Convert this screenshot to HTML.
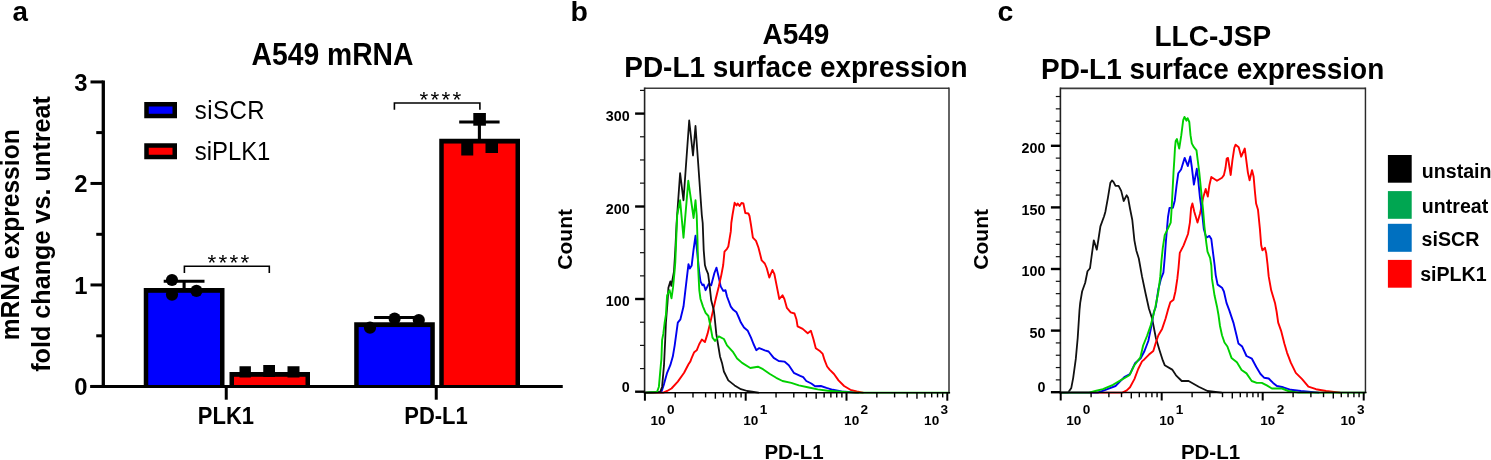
<!DOCTYPE html>
<html><head><meta charset="utf-8"><title>figure</title>
<style>
html,body{margin:0;padding:0;background:#fff;}
body{width:1491px;height:460px;overflow:hidden;}
svg{display:block;will-change:transform;}
svg text{font-family:"Liberation Sans",sans-serif;fill:#000;}
</style></head><body>
<svg width="1491" height="460" viewBox="0 0 1491 460">
<text transform="translate(12.6,21.3) scale(1,0.97)" font-size="27.8" font-weight="bold" text-anchor="start" >a</text>
<text transform="translate(332.5,65.3) scale(1,1.1)" font-size="28.3" font-weight="bold" text-anchor="middle" >A549 mRNA</text>
<line x1="103.3" y1="80.4" x2="103.3" y2="387.9" stroke="#000" stroke-width="3.3"/>
<line x1="90.5" y1="386.45" x2="562.5" y2="386.45" stroke="#000" stroke-width="3.0"/>
<line x1="90.5" y1="81.95" x2="103.3" y2="81.95" stroke="#000" stroke-width="3.0"/>
<text x="87.4" y="90.65" font-size="23.8" font-weight="bold" text-anchor="end" >3</text>
<line x1="90.5" y1="183.45" x2="103.3" y2="183.45" stroke="#000" stroke-width="3.0"/>
<text x="87.4" y="192.14999999999998" font-size="23.8" font-weight="bold" text-anchor="end" >2</text>
<line x1="90.5" y1="284.95" x2="103.3" y2="284.95" stroke="#000" stroke-width="3.0"/>
<text x="87.4" y="293.65" font-size="23.8" font-weight="bold" text-anchor="end" >1</text>
<line x1="90.5" y1="386.45" x2="103.3" y2="386.45" stroke="#000" stroke-width="3.0"/>
<text x="87.4" y="395.15" font-size="23.8" font-weight="bold" text-anchor="end" >0</text>
<line x1="96.25" y1="132.6" x2="103.3" y2="132.6" stroke="#000" stroke-width="3.0"/>
<line x1="96.25" y1="234.3" x2="103.3" y2="234.3" stroke="#000" stroke-width="3.0"/>
<line x1="96.25" y1="335.8" x2="103.3" y2="335.8" stroke="#000" stroke-width="3.0"/>
<line x1="226.25" y1="386.45" x2="226.25" y2="399.7" stroke="#000" stroke-width="3.0"/>
<line x1="436.25" y1="386.45" x2="436.25" y2="399.7" stroke="#000" stroke-width="3.0"/>
<text transform="translate(225.9,424.1) scale(1,1.09)" font-size="22" font-weight="bold" text-anchor="middle" >PLK1</text>
<text transform="translate(436,424.1) scale(1,1.09)" font-size="22" font-weight="bold" text-anchor="middle" >PD-L1</text>
<text transform="translate(18.5,234.8) rotate(-90) scale(1,1.03)" font-size="24.6" font-weight="bold" text-anchor="middle">mRNA expression</text>
<text transform="translate(49.7,234) rotate(-90)" font-size="25.2" font-weight="bold" text-anchor="middle">fold change vs. untreat</text>
<rect x="143.75" y="288" width="80.75" height="99.5" fill="#000"/>
<rect x="148.25" y="292.8" width="71.75" height="94.7" fill="#0000ff"/>
<rect x="229.5" y="372" width="80.5" height="15.5" fill="#000"/>
<rect x="234.0" y="376.8" width="71.5" height="10.7" fill="#ff0000"/>
<rect x="354.2" y="322.25" width="80.60000000000002" height="65.25" fill="#000"/>
<rect x="358.7" y="327.05" width="71.60000000000002" height="60.45" fill="#0000ff"/>
<rect x="439.25" y="138.75" width="80.75" height="248.75" fill="#000"/>
<rect x="443.75" y="143.55" width="71.75" height="243.95" fill="#ff0000"/>
<line x1="90.5" y1="386.45" x2="562.5" y2="386.45" stroke="#000" stroke-width="3.0"/>
<line x1="184.1" y1="281.3" x2="184.1" y2="289" stroke="#000" stroke-width="3.1"/>
<line x1="163.7" y1="281.3" x2="204.5" y2="281.3" stroke="#000" stroke-width="3.1"/>
<line x1="394.6" y1="317.5" x2="394.6" y2="323" stroke="#000" stroke-width="3.1"/>
<line x1="374.1" y1="317.5" x2="415.1" y2="317.5" stroke="#000" stroke-width="3.1"/>
<line x1="479.4" y1="122" x2="479.4" y2="140" stroke="#000" stroke-width="3.1"/>
<line x1="459.2" y1="122" x2="499.59999999999997" y2="122" stroke="#000" stroke-width="3.1"/>
<circle cx="172.0" cy="280" r="6.1" fill="#000"/>
<circle cx="172" cy="294.6" r="6.1" fill="#000"/>
<circle cx="196.45" cy="290.85" r="6.1" fill="#000"/>
<circle cx="370" cy="327.7" r="6.1" fill="#000"/>
<circle cx="394.6" cy="318.5" r="6.1" fill="#000"/>
<circle cx="418.8" cy="320" r="6.1" fill="#000"/>
<rect x="239.5" y="366.25" width="11.400000000000006" height="11.25" fill="#000"/>
<rect x="263.25" y="365" width="11.75" height="12" fill="#000"/>
<rect x="287.5" y="366.25" width="12.0" height="11.25" fill="#000"/>
<rect x="473.3" y="113.0" width="12.599999999999966" height="12.700000000000003" fill="#000"/>
<rect x="461.25" y="143" width="12.0" height="12.5" fill="#000"/>
<rect x="485.5" y="141" width="12.5" height="12" fill="#000"/>
<polyline points="184.4,272.9 184.4,266.3 269.3,266.3 269.3,272.9" fill="none" stroke="#000" stroke-width="1.6"/>
<polyline points="394.4,109.8 394.4,103.0 479.9,103.0 479.9,109.8" fill="none" stroke="#000" stroke-width="1.6"/>
<text x="229.5" y="269.6" font-size="22.5" font-weight="normal" text-anchor="middle" letter-spacing="2.2">****</text>
<text x="441.5" y="107.0" font-size="22.5" font-weight="normal" text-anchor="middle" letter-spacing="2.2">****</text>
<rect x="146.5" y="104.25" width="28.25" height="11.75" fill="#0000ff" stroke="#000" stroke-width="4.5"/>
<rect x="146.5" y="145.5" width="28.25" height="11.5" fill="#ff0000" stroke="#000" stroke-width="4.5"/>
<text transform="translate(194.7,118.7) scale(1,1.1)" font-size="24" font-weight="normal" text-anchor="start" letter-spacing="0.45">siSCR</text>
<text transform="translate(194.7,159.8) scale(1,1.1)" font-size="23.9" font-weight="normal" text-anchor="start" >siPLK1</text>
<text transform="translate(570.5,20.8) scale(1,0.95)" font-size="28.5" font-weight="bold" text-anchor="start" >b</text>
<text transform="translate(795.9,44.1) scale(1,1.07)" font-size="28" font-weight="bold" text-anchor="middle" >A549</text>
<text transform="translate(795.9,77.4) scale(1,1.07)" font-size="27.95" font-weight="bold" text-anchor="middle" >PD-L1 surface expression</text>
<polyline points="645.0,392.6 661.4,392.0 664.0,384.1 667.1,372.8 670.3,365.2 672.8,356.6 674.7,345.3 676.6,331.4 677.8,322.6 680.4,319.4 681.0,316.7 683.5,306.6 685.4,290.2 687.9,268.8 688.5,264.2 689.8,268.6 691.7,265.4 693.5,250.0 695.5,235.8 697.5,255.0 699.3,273.0 700.5,281.4 702.4,285.2 703.7,284.5 705.6,290.2 708.7,283.9 711.2,285.2 714.4,273.0 716.5,267.7 718.8,277.6 720.7,286.4 723.2,290.9 725.5,290.2 727.0,296.5 730.8,306.6 733.3,309.8 736.5,312.3 739.0,318.0 740.9,322.6 744.0,327.6 747.8,330.8 751.0,337.7 753.5,344.0 756.3,350.2 759.2,348.1 764.8,350.3 768.6,351.5 773.7,357.9 778.7,361.0 784.4,361.6 788.8,365.2 793.8,372.8 800.2,375.9 803.2,377.2 806.3,381.0 811.3,383.5 815.1,386.3 820.8,386.0 826.5,387.9 832.8,389.8 841.6,391.5 858.0,392.6" fill="none" stroke="#0000f0" stroke-width="1.9" stroke-linejoin="round" stroke-linecap="round"/>
<polyline points="645.0,392.6 663.3,392.6 667.1,391.0 671.5,388.5 677.8,381.6 684.1,372.8 688.5,364.2 690.4,361.4 691.7,357.9 694.2,352.2 696.7,350.3 699.3,344.0 701.8,339.6 704.9,342.1 707.5,333.9 710.0,323.8 712.5,312.9 715.7,299.0 718.8,286.4 721.3,275.1 723.2,265.0 724.5,251.6 727.0,248.8 728.3,246.5 730.8,231.4 731.3,223.0 732.5,215.0 734.6,202.8 736.5,205.4 737.7,203.5 739.6,206.0 741.5,203.0 743.4,203.5 745.3,213.0 748.4,213.5 749.5,216.0 751.0,225.0 752.9,237.7 756.0,240.9 758.5,247.8 761.7,260.4 764.8,263.5 766.7,268.0 769.3,277.6 772.4,270.0 774.3,273.8 776.8,286.4 779.3,299.0 782.5,295.3 784.4,299.0 786.9,307.9 790.7,312.3 794.5,313.5 796.4,319.2 797.6,326.3 802.7,328.9 807.7,333.3 810.9,330.8 813.4,339.0 815.8,348.2 820.2,351.3 822.7,353.9 824.6,360.2 827.1,366.5 829.6,369.6 834.0,374.0 838.5,380.4 844.1,386.0 850.4,389.8 856.7,391.5 863.0,392.6" fill="none" stroke="#ff0000" stroke-width="1.9" stroke-linejoin="round" stroke-linecap="round"/>
<polyline points="645.0,392.6 660.2,392.0 662.1,386.7 664.0,365.2 665.2,340.0 665.9,323.0 667.5,302.8 668.4,287.7 670.3,281.4 671.3,285.8 674.0,271.3 675.3,250.0 676.6,223.0 680.1,173.2 683.5,200.3 686.0,165.0 689.2,120.5 693.0,155.5 695.5,126.0 697.8,158.0 698.3,165.0 701.8,215.0 702.7,223.0 703.7,250.0 704.9,265.0 706.2,269.4 708.1,273.8 709.4,283.9 711.2,300.3 713.8,310.4 714.4,315.0 716.3,333.9 718.8,349.0 720.0,356.4 722.0,362.9 723.9,371.5 728.3,380.4 734.6,385.4 740.9,389.2 747.2,391.0 758.5,392.6" fill="none" stroke="#111111" stroke-width="1.8" stroke-linejoin="round" stroke-linecap="round"/>
<polyline points="645.0,392.6 657.0,392.0 658.9,386.7 660.8,365.2 661.4,359.1 662.1,340.0 663.3,333.9 664.6,323.0 665.9,315.0 667.1,295.3 669.6,290.2 671.5,298.4 673.0,287.7 674.7,270.0 675.3,262.0 677.2,215.0 680.1,200.3 683.5,237.7 688.3,180.8 693.6,218.0 695.5,200.3 696.7,215.0 697.5,240.0 698.0,265.0 699.3,290.2 700.5,299.0 703.0,306.6 705.6,312.9 708.4,316.0 710.4,326.0 712.5,337.7 715.0,340.9 718.8,336.4 723.9,339.0 727.0,345.3 732.7,351.6 737.1,358.5 742.1,362.9 750.3,368.0 757.9,366.7 763.0,369.2 769.9,374.0 776.2,377.8 782.5,381.0 791.3,382.9 798.9,385.4 807.7,387.3 817.7,389.4 827.7,390.8 837.8,391.5 855.5,392.6 949.0,392.6" fill="none" stroke="#00d000" stroke-width="1.9" stroke-linejoin="round" stroke-linecap="round"/>
<line x1="644.6" y1="88.2" x2="949.0" y2="88.2" stroke="#3c3c3c" stroke-width="1.6"/>
<line x1="949.0" y1="87.4" x2="949.0" y2="392.7" stroke="#2a2a2a" stroke-width="1.45"/>
<line x1="644.6" y1="87.4" x2="644.6" y2="393.4" stroke="#222" stroke-width="1.6"/>
<line x1="643.9" y1="392.7" x2="950.1" y2="392.7" stroke="#000" stroke-width="1.6"/>
<line x1="635.1" y1="113.6" x2="644.6" y2="113.6" stroke="#000" stroke-width="2.4"/>
<text transform="translate(629.6,120.8) scale(1,1.08)" font-size="14.3" font-weight="bold" text-anchor="end" >300</text>
<line x1="635.1" y1="206.5" x2="644.6" y2="206.5" stroke="#000" stroke-width="2.4"/>
<text transform="translate(629.6,213.7) scale(1,1.08)" font-size="14.3" font-weight="bold" text-anchor="end" >200</text>
<line x1="635.1" y1="299.0" x2="644.6" y2="299.0" stroke="#000" stroke-width="2.4"/>
<text transform="translate(629.6,306.2) scale(1,1.08)" font-size="14.3" font-weight="bold" text-anchor="end" >100</text>
<line x1="635.1" y1="391.7" x2="644.6" y2="391.7" stroke="#000" stroke-width="2.4"/>
<text transform="translate(629.6,391.8) scale(1,1.08)" font-size="14.3" font-weight="bold" text-anchor="end" >0</text>
<line x1="640.0" y1="90.39999999999999" x2="644.6" y2="90.39999999999999" stroke="#111" stroke-width="1.2"/>
<line x1="640.0" y1="136.78" x2="644.6" y2="136.78" stroke="#111" stroke-width="1.2"/>
<line x1="640.0" y1="159.95999999999998" x2="644.6" y2="159.95999999999998" stroke="#111" stroke-width="1.2"/>
<line x1="640.0" y1="183.14" x2="644.6" y2="183.14" stroke="#111" stroke-width="1.2"/>
<line x1="640.0" y1="229.5" x2="644.6" y2="229.5" stroke="#111" stroke-width="1.2"/>
<line x1="640.0" y1="252.67999999999998" x2="644.6" y2="252.67999999999998" stroke="#111" stroke-width="1.2"/>
<line x1="640.0" y1="275.86" x2="644.6" y2="275.86" stroke="#111" stroke-width="1.2"/>
<line x1="640.0" y1="322.22" x2="644.6" y2="322.22" stroke="#111" stroke-width="1.2"/>
<line x1="640.0" y1="345.4" x2="644.6" y2="345.4" stroke="#111" stroke-width="1.2"/>
<line x1="640.0" y1="368.58" x2="644.6" y2="368.58" stroke="#111" stroke-width="1.2"/>
<line x1="644.9" y1="392.7" x2="644.9" y2="400.7" stroke="#000" stroke-width="2.0"/>
<line x1="675.2438235629293" y1="392.7" x2="675.2438235629293" y2="397.4" stroke="#000" stroke-width="1.4"/>
<line x1="692.9938224757419" y1="392.7" x2="692.9938224757419" y2="397.4" stroke="#000" stroke-width="1.4"/>
<line x1="705.5876471258586" y1="392.7" x2="705.5876471258586" y2="397.4" stroke="#000" stroke-width="1.4"/>
<line x1="715.3561764370706" y1="392.7" x2="715.3561764370706" y2="398.7" stroke="#000" stroke-width="1.4"/>
<line x1="723.3376460386712" y1="392.7" x2="723.3376460386712" y2="397.4" stroke="#000" stroke-width="1.4"/>
<line x1="730.0858824334371" y1="392.7" x2="730.0858824334371" y2="397.4" stroke="#000" stroke-width="1.4"/>
<line x1="735.9314706887878" y1="392.7" x2="735.9314706887878" y2="397.4" stroke="#000" stroke-width="1.4"/>
<line x1="741.087644951484" y1="392.7" x2="741.087644951484" y2="397.4" stroke="#000" stroke-width="1.4"/>
<line x1="745.6999999999999" y1="392.7" x2="745.6999999999999" y2="400.7" stroke="#000" stroke-width="2.0"/>
<line x1="776.0438235629292" y1="392.7" x2="776.0438235629292" y2="397.4" stroke="#000" stroke-width="1.4"/>
<line x1="793.7938224757419" y1="392.7" x2="793.7938224757419" y2="397.4" stroke="#000" stroke-width="1.4"/>
<line x1="806.3876471258585" y1="392.7" x2="806.3876471258585" y2="397.4" stroke="#000" stroke-width="1.4"/>
<line x1="816.1561764370706" y1="392.7" x2="816.1561764370706" y2="398.7" stroke="#000" stroke-width="1.4"/>
<line x1="824.1376460386712" y1="392.7" x2="824.1376460386712" y2="397.4" stroke="#000" stroke-width="1.4"/>
<line x1="830.885882433437" y1="392.7" x2="830.885882433437" y2="397.4" stroke="#000" stroke-width="1.4"/>
<line x1="836.7314706887878" y1="392.7" x2="836.7314706887878" y2="397.4" stroke="#000" stroke-width="1.4"/>
<line x1="841.8876449514839" y1="392.7" x2="841.8876449514839" y2="397.4" stroke="#000" stroke-width="1.4"/>
<line x1="846.5" y1="392.7" x2="846.5" y2="400.7" stroke="#000" stroke-width="2.0"/>
<line x1="876.8438235629293" y1="392.7" x2="876.8438235629293" y2="397.4" stroke="#000" stroke-width="1.4"/>
<line x1="894.593822475742" y1="392.7" x2="894.593822475742" y2="397.4" stroke="#000" stroke-width="1.4"/>
<line x1="907.1876471258586" y1="392.7" x2="907.1876471258586" y2="397.4" stroke="#000" stroke-width="1.4"/>
<line x1="916.9561764370707" y1="392.7" x2="916.9561764370707" y2="398.7" stroke="#000" stroke-width="1.4"/>
<line x1="924.9376460386712" y1="392.7" x2="924.9376460386712" y2="397.4" stroke="#000" stroke-width="1.4"/>
<line x1="931.6858824334371" y1="392.7" x2="931.6858824334371" y2="397.4" stroke="#000" stroke-width="1.4"/>
<line x1="937.5314706887879" y1="392.7" x2="937.5314706887879" y2="397.4" stroke="#000" stroke-width="1.4"/>
<line x1="942.6876449514839" y1="392.7" x2="942.6876449514839" y2="397.4" stroke="#000" stroke-width="1.4"/>
<line x1="947.3" y1="392.7" x2="947.3" y2="400.7" stroke="#000" stroke-width="2.0"/>
<text x="650.5" y="424.5" font-size="13.6" font-weight="bold" text-anchor="start" >10</text>
<text x="667.0" y="413.9" font-size="13.6" font-weight="bold" text-anchor="start" >0</text>
<text x="743.3" y="424.5" font-size="13.6" font-weight="bold" text-anchor="start" >10</text>
<text x="759.8" y="413.9" font-size="13.6" font-weight="bold" text-anchor="start" >1</text>
<text x="844.1" y="424.5" font-size="13.6" font-weight="bold" text-anchor="start" >10</text>
<text x="860.6" y="413.9" font-size="13.6" font-weight="bold" text-anchor="start" >2</text>
<text x="924.0999999999999" y="424.5" font-size="13.6" font-weight="bold" text-anchor="start" >10</text>
<text x="940.5999999999999" y="413.9" font-size="13.6" font-weight="bold" text-anchor="start" >3</text>
<text transform="translate(572.2,239.3) rotate(-90)" font-size="21" font-weight="bold" text-anchor="middle">Count</text>
<text x="794" y="459" font-size="20.5" font-weight="bold" text-anchor="middle" >PD-L1</text>
<text x="997.6" y="21.4" font-size="28.5" font-weight="bold" text-anchor="start" >c</text>
<text transform="translate(1212.8,45.8) scale(1,1.07)" font-size="28" font-weight="bold" text-anchor="middle" >LLC-JSP</text>
<text transform="translate(1212.6,78.6) scale(1,1.07)" font-size="27.95" font-weight="bold" text-anchor="middle" >PD-L1 surface expression</text>
<polyline points="1060.5,392.6 1068.2,392.6 1071.3,387.9 1073.2,377.8 1075.8,358.9 1077.7,338.0 1079.5,310.0 1080.2,302.9 1082.1,291.5 1085.2,282.7 1087.5,271.3 1090.0,268.2 1091.5,257.0 1093.8,240.3 1096.8,249.7 1098.5,239.0 1100.4,226.4 1104.1,216.3 1105.4,211.7 1107.9,197.8 1110.4,182.7 1112.0,180.4 1113.6,182.1 1115.5,185.9 1118.6,185.9 1121.2,190.9 1123.7,201.0 1126.6,195.3 1128.1,197.8 1130.0,208.5 1132.3,220.0 1134.4,240.3 1136.3,250.4 1138.8,258.5 1142.0,276.4 1145.7,294.0 1148.9,308.5 1152.1,318.5 1155.8,337.7 1159.6,350.4 1162.8,360.4 1164.7,365.2 1172.2,369.6 1176.0,375.3 1181.7,381.0 1188.6,381.0 1198.7,386.7 1207.5,391.0 1221.4,392.6" fill="none" stroke="#111111" stroke-width="1.8" stroke-linejoin="round" stroke-linecap="round"/>
<polyline points="1060.5,392.6 1122.4,392.6 1126.8,390.4 1130.0,387.3 1134.4,379.1 1138.2,369.0 1142.0,361.4 1144.5,359.2 1149.0,354.6 1153.3,351.0 1155.8,342.8 1158.4,335.2 1162.1,328.9 1165.6,318.5 1167.8,310.4 1170.3,302.2 1173.5,299.7 1175.4,291.5 1177.3,278.9 1178.5,268.0 1179.8,252.9 1183.6,245.3 1188.0,234.0 1189.9,222.6 1191.1,208.0 1192.4,203.5 1194.3,211.7 1197.5,222.6 1200.0,213.8 1201.2,207.9 1203.1,197.8 1205.7,189.0 1207.8,196.6 1209.4,185.2 1211.3,177.0 1217.0,180.8 1222.0,177.7 1223.9,175.1 1225.5,168.0 1226.7,158.5 1228.0,157.9 1230.7,175.0 1232.4,160.4 1234.3,147.8 1235.6,144.7 1238.7,147.2 1241.2,156.7 1244.8,148.5 1246.3,160.4 1247.9,172.6 1249.6,180.2 1252.0,170.1 1253.6,176.4 1254.9,191.5 1256.1,203.5 1258.0,209.8 1259.9,228.9 1261.2,245.3 1262.4,250.4 1264.9,247.8 1266.2,252.9 1267.5,264.0 1268.7,276.4 1271.2,290.3 1275.0,302.9 1276.6,311.5 1278.2,322.6 1281.3,331.4 1284.5,344.0 1287.0,352.6 1290.8,362.7 1295.8,372.8 1302.1,379.1 1308.4,386.7 1316.0,389.2 1326.1,391.0 1340.0,392.6" fill="none" stroke="#ff0000" stroke-width="1.9" stroke-linejoin="round" stroke-linecap="round"/>
<polyline points="1060.5,392.6 1097.8,392.6 1105.4,389.8 1115.5,386.0 1124.3,377.2 1130.0,374.0 1135.0,363.3 1140.7,358.2 1144.5,351.0 1148.3,341.0 1150.8,328.9 1153.9,312.0 1155.8,306.7 1158.4,289.0 1160.9,278.9 1163.4,272.6 1164.7,258.0 1165.9,241.5 1167.2,226.4 1168.0,217.0 1169.5,207.9 1172.9,207.7 1174.8,200.4 1176.6,185.2 1178.3,173.2 1181.1,169.5 1183.6,161.3 1184.7,157.9 1187.8,166.0 1190.3,156.5 1191.8,167.0 1193.9,184.6 1196.8,168.8 1198.1,178.9 1200.0,197.8 1201.9,211.0 1203.8,228.9 1206.3,237.7 1209.4,235.9 1211.3,239.0 1213.2,254.1 1214.6,265.0 1215.7,275.1 1217.6,284.6 1222.0,287.7 1223.9,291.5 1226.5,302.9 1229.3,310.4 1233.4,322.6 1236.5,335.2 1238.4,343.4 1242.2,346.6 1246.5,356.0 1251.9,358.7 1256.3,367.0 1260.5,374.0 1264.3,377.8 1268.7,378.5 1273.1,382.9 1276.9,386.0 1283.2,387.3 1290.8,389.8 1300.9,391.0 1318.5,392.6" fill="none" stroke="#0000f0" stroke-width="1.9" stroke-linejoin="round" stroke-linecap="round"/>
<polyline points="1060.5,392.6 1089.0,392.6 1095.3,391.0 1102.9,389.2 1113.0,384.8 1120.5,380.4 1129.4,375.3 1134.4,365.2 1140.4,357.2 1143.2,345.3 1147.0,336.0 1150.8,325.1 1154.6,310.0 1155.2,307.9 1158.4,291.5 1160.3,276.4 1161.5,260.4 1162.8,247.8 1164.7,235.2 1167.8,228.9 1170.7,222.6 1171.3,214.0 1172.2,197.8 1173.5,172.6 1174.3,160.0 1175.0,147.8 1175.7,140.9 1176.9,139.0 1179.2,148.5 1181.3,135.2 1183.2,120.1 1184.5,116.9 1186.4,120.7 1187.6,118.2 1189.3,122.0 1190.5,135.2 1191.8,143.4 1193.9,147.2 1196.5,150.4 1197.7,160.0 1199.3,172.6 1201.2,191.5 1203.1,210.0 1204.4,226.4 1206.3,242.8 1207.5,251.6 1210.1,257.9 1211.3,265.5 1212.0,278.9 1214.5,295.3 1217.0,306.7 1218.5,315.0 1220.0,326.0 1222.0,335.2 1224.5,342.5 1227.4,346.5 1231.5,357.9 1236.9,362.2 1241.6,370.0 1246.5,373.4 1251.7,381.0 1256.7,382.9 1261.8,382.9 1266.8,385.4 1271.9,388.5 1282.0,388.5 1288.3,391.0 1298.4,392.6 1365.0,392.6" fill="none" stroke="#00d000" stroke-width="1.9" stroke-linejoin="round" stroke-linecap="round"/>
<line x1="1060.4" y1="88.4" x2="1365.45" y2="88.4" stroke="#3c3c3c" stroke-width="1.6"/>
<line x1="1365.45" y1="87.60000000000001" x2="1365.45" y2="392.5" stroke="#2a2a2a" stroke-width="1.45"/>
<line x1="1060.4" y1="87.60000000000001" x2="1060.4" y2="393.2" stroke="#222" stroke-width="1.6"/>
<line x1="1059.7" y1="392.5" x2="1366.55" y2="392.5" stroke="#000" stroke-width="1.6"/>
<line x1="1050.9" y1="145.79999999999998" x2="1060.4" y2="145.79999999999998" stroke="#000" stroke-width="2.4"/>
<text transform="translate(1045.4,152.99999999999997) scale(1,1.08)" font-size="14.3" font-weight="bold" text-anchor="end" >200</text>
<line x1="1050.9" y1="207.39999999999998" x2="1060.4" y2="207.39999999999998" stroke="#000" stroke-width="2.4"/>
<text transform="translate(1045.4,214.59999999999997) scale(1,1.08)" font-size="14.3" font-weight="bold" text-anchor="end" >150</text>
<line x1="1050.9" y1="269.0" x2="1060.4" y2="269.0" stroke="#000" stroke-width="2.4"/>
<text transform="translate(1045.4,276.2) scale(1,1.08)" font-size="14.3" font-weight="bold" text-anchor="end" >100</text>
<line x1="1050.9" y1="330.59999999999997" x2="1060.4" y2="330.59999999999997" stroke="#000" stroke-width="2.4"/>
<text transform="translate(1045.4,337.79999999999995) scale(1,1.08)" font-size="14.3" font-weight="bold" text-anchor="end" >50</text>
<line x1="1050.9" y1="392.2" x2="1060.4" y2="392.2" stroke="#000" stroke-width="2.4"/>
<text transform="translate(1045.4,392.3) scale(1,1.08)" font-size="14.3" font-weight="bold" text-anchor="end" >0</text>
<line x1="1055.8000000000002" y1="379.88" x2="1060.4" y2="379.88" stroke="#111" stroke-width="1.2"/>
<line x1="1055.8000000000002" y1="367.56" x2="1060.4" y2="367.56" stroke="#111" stroke-width="1.2"/>
<line x1="1055.8000000000002" y1="355.24" x2="1060.4" y2="355.24" stroke="#111" stroke-width="1.2"/>
<line x1="1055.8000000000002" y1="342.91999999999996" x2="1060.4" y2="342.91999999999996" stroke="#111" stroke-width="1.2"/>
<line x1="1055.8000000000002" y1="318.28" x2="1060.4" y2="318.28" stroke="#111" stroke-width="1.2"/>
<line x1="1055.8000000000002" y1="305.96" x2="1060.4" y2="305.96" stroke="#111" stroke-width="1.2"/>
<line x1="1055.8000000000002" y1="293.64" x2="1060.4" y2="293.64" stroke="#111" stroke-width="1.2"/>
<line x1="1055.8000000000002" y1="281.32" x2="1060.4" y2="281.32" stroke="#111" stroke-width="1.2"/>
<line x1="1055.8000000000002" y1="256.67999999999995" x2="1060.4" y2="256.67999999999995" stroke="#111" stroke-width="1.2"/>
<line x1="1055.8000000000002" y1="244.35999999999999" x2="1060.4" y2="244.35999999999999" stroke="#111" stroke-width="1.2"/>
<line x1="1055.8000000000002" y1="232.04" x2="1060.4" y2="232.04" stroke="#111" stroke-width="1.2"/>
<line x1="1055.8000000000002" y1="219.72" x2="1060.4" y2="219.72" stroke="#111" stroke-width="1.2"/>
<line x1="1055.8000000000002" y1="195.07999999999998" x2="1060.4" y2="195.07999999999998" stroke="#111" stroke-width="1.2"/>
<line x1="1055.8000000000002" y1="182.76" x2="1060.4" y2="182.76" stroke="#111" stroke-width="1.2"/>
<line x1="1055.8000000000002" y1="170.44" x2="1060.4" y2="170.44" stroke="#111" stroke-width="1.2"/>
<line x1="1055.8000000000002" y1="158.12" x2="1060.4" y2="158.12" stroke="#111" stroke-width="1.2"/>
<line x1="1055.8000000000002" y1="133.48000000000002" x2="1060.4" y2="133.48000000000002" stroke="#111" stroke-width="1.2"/>
<line x1="1055.8000000000002" y1="121.15999999999997" x2="1060.4" y2="121.15999999999997" stroke="#111" stroke-width="1.2"/>
<line x1="1055.8000000000002" y1="108.83999999999997" x2="1060.4" y2="108.83999999999997" stroke="#111" stroke-width="1.2"/>
<line x1="1055.8000000000002" y1="96.51999999999998" x2="1060.4" y2="96.51999999999998" stroke="#111" stroke-width="1.2"/>
<line x1="1060.7" y1="392.5" x2="1060.7" y2="400.5" stroke="#000" stroke-width="2.0"/>
<line x1="1091.1040295620621" y1="392.5" x2="1091.1040295620621" y2="397.2" stroke="#000" stroke-width="1.4"/>
<line x1="1108.889246726686" y1="392.5" x2="1108.889246726686" y2="397.2" stroke="#000" stroke-width="1.4"/>
<line x1="1121.5080591241242" y1="392.5" x2="1121.5080591241242" y2="397.2" stroke="#000" stroke-width="1.4"/>
<line x1="1131.295970437938" y1="392.5" x2="1131.295970437938" y2="398.5" stroke="#000" stroke-width="1.4"/>
<line x1="1139.293276288748" y1="392.5" x2="1139.293276288748" y2="397.2" stroke="#000" stroke-width="1.4"/>
<line x1="1146.05490204144" y1="392.5" x2="1146.05490204144" y2="397.2" stroke="#000" stroke-width="1.4"/>
<line x1="1151.9120886861863" y1="392.5" x2="1151.9120886861863" y2="397.2" stroke="#000" stroke-width="1.4"/>
<line x1="1157.078493453372" y1="392.5" x2="1157.078493453372" y2="397.2" stroke="#000" stroke-width="1.4"/>
<line x1="1161.7" y1="392.5" x2="1161.7" y2="400.5" stroke="#000" stroke-width="2.0"/>
<line x1="1192.1040295620621" y1="392.5" x2="1192.1040295620621" y2="397.2" stroke="#000" stroke-width="1.4"/>
<line x1="1209.889246726686" y1="392.5" x2="1209.889246726686" y2="397.2" stroke="#000" stroke-width="1.4"/>
<line x1="1222.5080591241242" y1="392.5" x2="1222.5080591241242" y2="397.2" stroke="#000" stroke-width="1.4"/>
<line x1="1232.295970437938" y1="392.5" x2="1232.295970437938" y2="398.5" stroke="#000" stroke-width="1.4"/>
<line x1="1240.293276288748" y1="392.5" x2="1240.293276288748" y2="397.2" stroke="#000" stroke-width="1.4"/>
<line x1="1247.05490204144" y1="392.5" x2="1247.05490204144" y2="397.2" stroke="#000" stroke-width="1.4"/>
<line x1="1252.9120886861863" y1="392.5" x2="1252.9120886861863" y2="397.2" stroke="#000" stroke-width="1.4"/>
<line x1="1258.078493453372" y1="392.5" x2="1258.078493453372" y2="397.2" stroke="#000" stroke-width="1.4"/>
<line x1="1262.7" y1="392.5" x2="1262.7" y2="400.5" stroke="#000" stroke-width="2.0"/>
<line x1="1293.1040295620621" y1="392.5" x2="1293.1040295620621" y2="397.2" stroke="#000" stroke-width="1.4"/>
<line x1="1310.889246726686" y1="392.5" x2="1310.889246726686" y2="397.2" stroke="#000" stroke-width="1.4"/>
<line x1="1323.5080591241242" y1="392.5" x2="1323.5080591241242" y2="397.2" stroke="#000" stroke-width="1.4"/>
<line x1="1333.295970437938" y1="392.5" x2="1333.295970437938" y2="398.5" stroke="#000" stroke-width="1.4"/>
<line x1="1341.293276288748" y1="392.5" x2="1341.293276288748" y2="397.2" stroke="#000" stroke-width="1.4"/>
<line x1="1348.05490204144" y1="392.5" x2="1348.05490204144" y2="397.2" stroke="#000" stroke-width="1.4"/>
<line x1="1353.9120886861863" y1="392.5" x2="1353.9120886861863" y2="397.2" stroke="#000" stroke-width="1.4"/>
<line x1="1359.078493453372" y1="392.5" x2="1359.078493453372" y2="397.2" stroke="#000" stroke-width="1.4"/>
<line x1="1363.7" y1="392.5" x2="1363.7" y2="400.5" stroke="#000" stroke-width="2.0"/>
<text x="1066.3" y="424.5" font-size="13.6" font-weight="bold" text-anchor="start" >10</text>
<text x="1082.8" y="413.9" font-size="13.6" font-weight="bold" text-anchor="start" >0</text>
<text x="1159.3" y="424.5" font-size="13.6" font-weight="bold" text-anchor="start" >10</text>
<text x="1175.8" y="413.9" font-size="13.6" font-weight="bold" text-anchor="start" >1</text>
<text x="1260.3" y="424.5" font-size="13.6" font-weight="bold" text-anchor="start" >10</text>
<text x="1276.8" y="413.9" font-size="13.6" font-weight="bold" text-anchor="start" >2</text>
<text x="1340.5" y="424.5" font-size="13.6" font-weight="bold" text-anchor="start" >10</text>
<text x="1357.0" y="413.9" font-size="13.6" font-weight="bold" text-anchor="start" >3</text>
<text transform="translate(987.8,239.3) rotate(-90)" font-size="21" font-weight="bold" text-anchor="middle">Count</text>
<text x="1210.5" y="459" font-size="20.5" font-weight="bold" text-anchor="middle" >PD-L1</text>
<rect x="1387.9" y="155" width="23.8" height="27.7" fill="#000000"/>
<text x="1421.8" y="177.9" font-size="19.6" font-weight="bold" text-anchor="start" >unstain</text>
<rect x="1387.9" y="191.1" width="23.8" height="27.7" fill="#00a651"/>
<text x="1421.8" y="212.7" font-size="19.6" font-weight="bold" text-anchor="start" >untreat</text>
<rect x="1387.9" y="223.8" width="23.8" height="28.0" fill="#0070c0"/>
<text x="1421.6" y="246.2" font-size="19.6" font-weight="bold" text-anchor="start" >siSCR</text>
<rect x="1387.9" y="259.9" width="23.8" height="27.8" fill="#ff0000"/>
<text x="1420.2" y="280.5" font-size="19.6" font-weight="bold" text-anchor="start" >siPLK1</text>
</svg>
</body></html>
